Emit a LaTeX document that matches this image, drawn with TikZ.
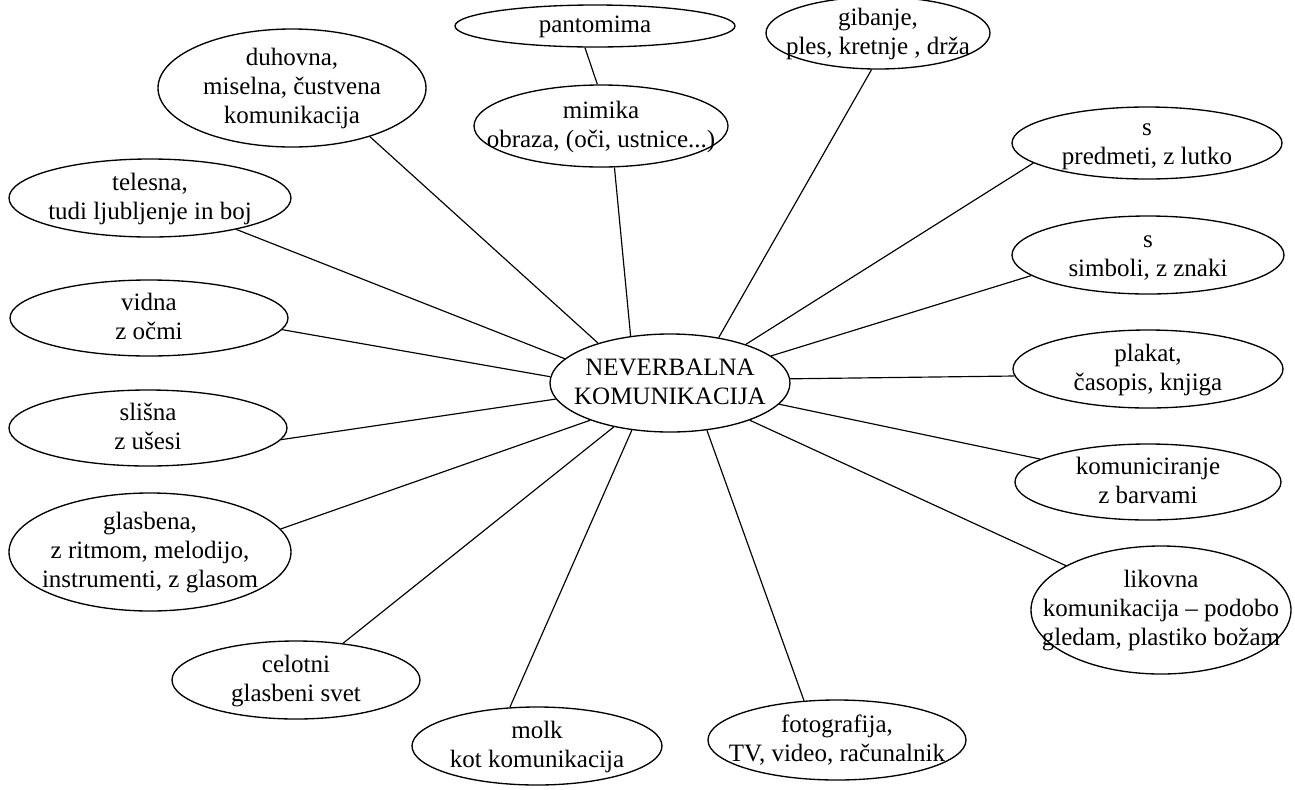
\documentclass[tikz,border=0pt]{standalone}
\usepackage{fontspec}
\setmainfont{Liberation Serif}
\usetikzlibrary{shapes}
\newcommand{\vsebina}[1]{\makebox[0pt]{\raisebox{-0.6ex}[0pt][0pt]{\begin{tabular}{@{}c@{}}#1\end{tabular}}}}

\begin{document}
\begin{tikzpicture}[x=0.6pt,y=-0.6pt]
	\tikzstyle{oblacek}=[ellipse,draw,line width=0.8pt,inner sep=0pt,font=\fontsize{15}{17.5}\selectfont]
	\tikzset{mera/.style 2 args={minimum width=#1*0.6pt,minimum height=#2*0.6pt}}
	\tikzstyle{every path}=[line width=0.7pt]
	\useasboundingbox (0,0) rectangle (1295,789);
	\node[oblacek,mera={240}{98}] (center) at (670,383) {\vsebina{NEVERBALNA\\KOMUNIKACIJA}};
	\node[oblacek,mera={280}{42}] (pantomima) at (595,26) {\vsebina{pantomima}};
	\node[oblacek,mera={254}{82}] (mimika) at (601,126) {\vsebina{mimika\\obraza, (oči, ustnice...)}};
	\node[oblacek,mera={268}{118}] (duhovna) at (292,88) {\vsebina{duhovna,\\miselna, čustvena\\komunikacija}};
	\node[oblacek,mera={224}{72}] (gibanje) at (878,33) {\vsebina{gibanje,\\ples, kretnje , drža}};
	\node[oblacek,mera={270}{72}] (predmeti) at (1147,143) {\vsebina{s\\predmeti, z lutko}};
	\node[oblacek,mera={282}{78}] (telesna) at (150,198) {\vsebina{telesna,\\tudi ljubljenje in boj}};
	\node[oblacek,mera={272}{78}] (simboli) at (1148,255) {\vsebina{s\\simboli, z znaki}};
	\node[oblacek,mera={278}{76}] (vidna) at (149,318) {\vsebina{vidna\\z očmi}};
	\node[oblacek,mera={270}{78}] (plakat) at (1148,369) {\vsebina{plakat,\\časopis, knjiga}};
	\node[oblacek,mera={278}{76}] (slisna) at (148,428) {\vsebina{slišna\\z ušesi}};
	\node[oblacek,mera={266}{76}] (barve) at (1148,482) {\vsebina{komuniciranje\\z barvami}};
	\node[oblacek,mera={282}{118}] (glasbena) at (150,552) {\vsebina{glasbena,\\z ritmom, melodijo,\\instrumenti, z glasom}};
	\node[oblacek,mera={260}{128}] (likovna) at (1161,610) {\vsebina{likovna\\komunikacija -- podobo\\gledam, plastiko božam}};
	\node[oblacek,mera={248}{78}] (celotni) at (296,680) {\vsebina{celotni\\glasbeni svet}};
	\node[oblacek,mera={250}{78}] (molk) at (537,746) {\vsebina{molk\\kot komunikacija}};
	\node[oblacek,mera={258}{80}] (foto) at (837,740) {\vsebina{fotografija,\\TV, video, računalnik}};
	\draw (pantomima.-115) -- (mimika.95);
	\draw (mimika.-72) -- (center.130);
	\draw (duhovna.-32) -- (center.151);
	\draw (gibanje.-100) -- (center.43);
	\draw (predmeti.190) -- (center.27);
	\draw (telesna.-20) -- (center.167);
	\draw (simboli.190) -- (center.15);
	\draw (vidna.-5) -- (center.177);
	\draw (plakat.183) -- (center.2);
	\draw (slisna.-5) -- (center.188);
	\draw (barve.168) -- (center.-11);
	\draw (glasbena.10) -- (center.205);
	\draw (likovna.155) -- (center.-25);
	\draw (celotni.38) -- (center.218);
	\draw (molk.125) -- (center.231);
	\draw (foto.130) -- (center.-52);
\end{tikzpicture}
\end{document}
